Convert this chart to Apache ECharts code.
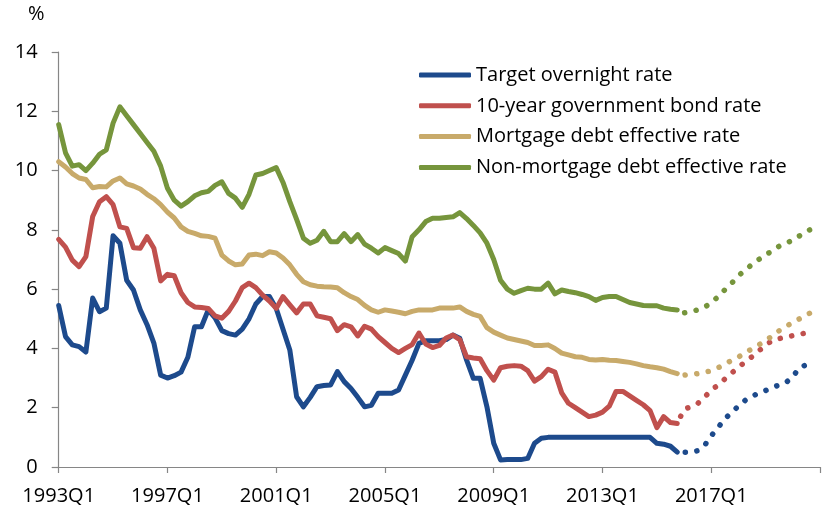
<!DOCTYPE html>
<html>
<head>
<meta charset="utf-8">
<script src="https://cdn.jsdelivr.net/npm/echarts@6/dist/echarts.min.js"></script>
<style>
  html, body { margin: 0; padding: 0; background: #fff; }
  #chart { width: 823px; height: 512px; }
</style>
</head>
<body>
<div id="chart"></div>
<script>
// quarterly axis, 1993Q1 .. 2021Q1
const quarters = [];
for (let y = 1993; y <= 2021; y++) {
  for (let q = 1; q <= 4; q++) quarters.push(y + "Q" + q);
}
quarters.length = 113;

const seriesNames = [
  "Target overnight rate",
  "10-year government bond rate",
  "Mortgage debt effective rate",
  "Non-mortgage debt effective rate"
];

// actual, 1993Q1 - 2015Q4
const overnight = [
  5.45, 4.4, 4.12, 4.06,
  3.88, 5.7, 5.24, 5.36,
  7.8, 7.55, 6.3, 5.97,
  5.3, 4.8, 4.18, 3.1,
  3.0, 3.08, 3.2, 3.7,
  4.73, 4.73, 5.3, 5.03,
  4.6, 4.5, 4.45, 4.65,
  5.0, 5.5, 5.75, 5.75,
  5.35, 4.65, 3.95, 2.37,
  2.03, 2.35, 2.71, 2.75,
  2.77, 3.22, 2.88, 2.65,
  2.35, 2.03, 2.08, 2.49,
  2.49, 2.49, 2.6, 3.1,
  3.6, 4.17, 4.26, 4.26,
  4.26, 4.3, 4.45, 4.34,
  3.61, 2.99, 2.99, 2.03,
  0.8, 0.24, 0.25, 0.25,
  0.25, 0.29, 0.8, 0.97,
  1, 1, 1, 1,
  1, 1, 1, 1,
  1, 1, 1, 1,
  1, 1, 1, 1,
  0.8, 0.77, 0.7, 0.5
];
const bond10y = [
  7.68, 7.42, 6.98, 6.76,
  7.1, 8.45, 8.95, 9.12,
  8.85, 8.1, 8.05, 7.4,
  7.38, 7.77, 7.38, 6.28,
  6.5, 6.45, 5.88, 5.55,
  5.4, 5.38, 5.35, 5.1,
  5.02, 5.25, 5.6, 6.05,
  6.2, 6.05, 5.8, 5.6,
  5.35, 5.75, 5.47, 5.2,
  5.5, 5.5, 5.1, 5.05,
  5.0, 4.6, 4.8, 4.73,
  4.42, 4.75, 4.65, 4.4,
  4.2, 4.0, 3.86, 4.0,
  4.13, 4.52, 4.15, 4.03,
  4.1, 4.35, 4.45, 4.3,
  3.72, 3.68, 3.65, 3.25,
  2.93, 3.35, 3.4, 3.42,
  3.4, 3.25, 2.9, 3.05,
  3.3, 3.2, 2.5, 2.15,
  2.0, 1.85, 1.7, 1.75,
  1.85, 2.05, 2.55, 2.55,
  2.4, 2.25, 2.1, 1.9,
  1.33, 1.7, 1.5, 1.47
];
const mortgage = [
  10.3, 10.12, 9.9, 9.75,
  9.7, 9.42, 9.46, 9.45,
  9.65, 9.75, 9.55, 9.48,
  9.38, 9.2, 9.05, 8.85,
  8.6, 8.4, 8.1, 7.95,
  7.88, 7.8, 7.78, 7.72,
  7.15, 6.95, 6.82, 6.85,
  7.15, 7.18, 7.13, 7.26,
  7.22, 7.05, 6.82, 6.5,
  6.25, 6.15, 6.1, 6.08,
  6.07, 6.05, 5.88, 5.75,
  5.65, 5.45, 5.3, 5.22,
  5.3, 5.26, 5.22, 5.17,
  5.25, 5.3, 5.3, 5.3,
  5.36, 5.36, 5.36, 5.4,
  5.25, 5.15, 5.08, 4.7,
  4.55, 4.45, 4.35, 4.3,
  4.25, 4.2, 4.1, 4.1,
  4.12, 4.0, 3.84, 3.78,
  3.72, 3.7, 3.63, 3.61,
  3.63, 3.6, 3.59, 3.56,
  3.53, 3.48, 3.42, 3.38,
  3.35, 3.3, 3.22, 3.15
];
const nonMortgage = [
  11.55, 10.6, 10.15, 10.2,
  10.0, 10.25, 10.55, 10.7,
  11.6, 12.15, 11.85, 11.55,
  11.25, 10.95, 10.65, 10.15,
  9.4, 9.0, 8.8, 8.95,
  9.15, 9.25, 9.3, 9.5,
  9.62, 9.23, 9.07, 8.76,
  9.2, 9.85, 9.9, 10.0,
  10.1, 9.6, 8.95, 8.35,
  7.72, 7.55, 7.65, 7.95,
  7.6, 7.6, 7.87, 7.6,
  7.84, 7.52, 7.38, 7.22,
  7.4, 7.3, 7.2, 6.95,
  7.77, 8.0, 8.28, 8.39,
  8.39, 8.42, 8.44, 8.58,
  8.38, 8.15, 7.9, 7.55,
  7.0, 6.3, 6.0, 5.86,
  5.95, 6.03, 6.0, 6.0,
  6.2, 5.84, 5.97, 5.92,
  5.88, 5.82, 5.75, 5.62,
  5.72, 5.75, 5.75, 5.65,
  5.55, 5.5, 5.45, 5.44,
  5.44, 5.36, 5.32, 5.3
];

// projections, 2015Q4 - 2020Q4 (first point = last actual)
const forecastStart = 91;
const overnightF = [0.5, 0.5, 0.5, 0.55, 0.72, 1.05, 1.33, 1.62, 1.85, 2.05, 2.25, 2.38, 2.5, 2.58, 2.68, 2.77, 2.85, 3.05, 3.35, 3.45, 3.5];
const bond10yF = [1.47, 1.95, 2.03, 2.14, 2.35, 2.6, 2.76, 2.97, 3.17, 3.36, 3.55, 3.72, 3.92, 4.1, 4.28, 4.33, 4.38, 4.43, 4.48, 4.52, 4.55];
const mortgageF = [3.15, 3.1, 3.12, 3.15, 3.19, 3.25, 3.35, 3.46, 3.6, 3.71, 3.85, 3.99, 4.12, 4.27, 4.42, 4.6, 4.74, 4.88, 5.0, 5.13, 5.25];
const nonMortgageF = [5.3, 5.2, 5.24, 5.3, 5.38, 5.55, 5.74, 5.98, 6.2, 6.45, 6.65, 6.83, 7.0, 7.15, 7.3, 7.45, 7.55, 7.65, 7.8, 7.95, 8.05];

const colors = ["#1d4a8c", "#c0504d", "#c8aa6a", "#76953c"];
const font = "Open Sans";

function solid(name, data, color) {
  return {
    name: name,
    type: "line",
    data: data,
    symbol: "none",
    color: color,
    lineStyle: { width: 5, color: color, cap: "round", join: "round" }
  };
}

function dotted(name, data, color) {
  return {
    name: name,
    type: "line",
    data: new Array(forecastStart).fill(null).concat(data),
    symbol: "none",
    color: color,
    lineStyle: { width: 5.5, color: color, type: [0.1, 11.6], dashOffset: 3.7, cap: "round" }
  };
}

const chart = echarts.init(document.getElementById("chart"), null, { renderer: "canvas" });

const option = {
  animation: false,
  textStyle: { fontFamily: font },
  grid: { left: 58.7, right: 0, top: 52, bottom: 45 },
  graphic: [
    {
      type: "text",
      left: 28,
      top: 4,
      style: { text: "%", font: "20px '" + font + "'", fill: "#000" }
    }
  ],
  legend: {
    data: seriesNames,
    orient: "vertical",
    left: 419,
    top: 65,
    padding: 0,
    itemWidth: 52,
    itemHeight: 5,
    itemGap: 10.8,
    icon: "roundRect",
    textStyle: { fontFamily: font, fontSize: 20, color: "#000" }
  },
  xAxis: {
    type: "category",
    data: quarters,
    boundaryGap: false,
    axisLine: { lineStyle: { color: "#868686", width: 1.2 } },
    axisTick: { interval: 15, length: 6, lineStyle: { color: "#868686", width: 1.2 } },
    axisLabel: {
      interval: 15,
      margin: 19,
      fontSize: 20,
      color: "#000",
      fontFamily: font,
      formatter: (v, i) => (i > 100 ? "" : v)
    },
    splitLine: { show: false }
  },
  yAxis: {
    type: "value",
    min: 0,
    max: 14,
    interval: 2,
    axisLine: { show: true, lineStyle: { color: "#868686", width: 1.2 } },
    axisTick: { show: true, length: 7, lineStyle: { color: "#868686", width: 1.2 } },
    axisLabel: { margin: 21, fontSize: 20, color: "#000", fontFamily: font },
    splitLine: { show: false }
  },
  series: [
    solid(seriesNames[0], overnight, colors[0]),
    solid(seriesNames[1], bond10y, colors[1]),
    solid(seriesNames[2], mortgage, colors[2]),
    solid(seriesNames[3], nonMortgage, colors[3]),
    dotted("overnight-proj", overnightF, colors[0]),
    dotted("bond-proj", bond10yF, colors[1]),
    dotted("mortgage-proj", mortgageF, colors[2]),
    dotted("nonmortgage-proj", nonMortgageF, colors[3])
  ]
};

chart.setOption(option);
</script>
</body>
</html>
